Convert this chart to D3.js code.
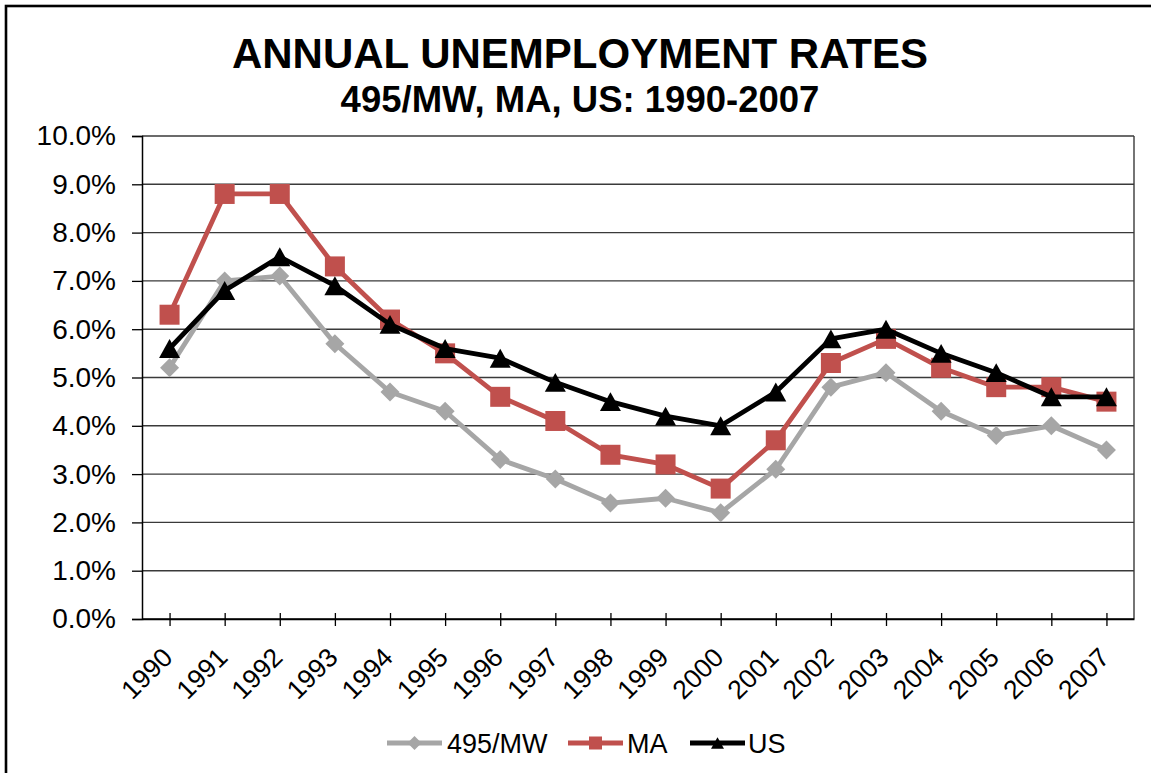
<!DOCTYPE html>
<html><head><meta charset="utf-8">
<script src="https://cdn.jsdelivr.net/npm/d3@7"></script>
<style>
body{margin:0;background:#fff;}
svg{display:block;font-family:"Liberation Sans",Arial,Helvetica,sans-serif;}
</style>
</head><body>
<svg id="chart" width="1151" height="773"></svg>
<script>
// ---- data ----
const years = ["1990","1991","1992","1993","1994","1995","1996","1997","1998","1999","2000","2001","2002","2003","2004","2005","2006","2007"];
const mw495 = [5.2,7.0,7.1,5.7,4.7,4.3,3.3,2.9,2.4,2.5,2.2,3.1,4.8,5.1,4.3,3.8,4.0,3.5];
const ma    = [6.3,8.8,8.8,7.3,6.2,5.5,4.6,4.1,3.4,3.2,2.7,3.7,5.3,5.8,5.2,4.8,4.8,4.5];
const us    = [5.6,6.8,7.5,6.9,6.1,5.6,5.4,4.9,4.5,4.2,4.0,4.7,5.8,6.0,5.5,5.1,4.6,4.6];
const yTicks = [0,1,2,3,4,5,6,7,8,9,10];
const seriesNames = ["495/MW","MA","US"];
const titleText = "ANNUAL UNEMPLOYMENT RATES";
const subtitleText = "495/MW, MA, US: 1990-2007";

const series = [
  {name: seriesNames[0], values: mw495, color: "#A6A6A6", shape: "diamond"},
  {name: seriesNames[1], values: ma,    color: "#C0504D", shape: "square"},
  {name: seriesNames[2], values: us,    color: "#000000", shape: "triangle"}
];

const svg = d3.select("#chart");
const plot = {left: 142, right: 1134, top: 136, bottom: 619};

// outer frame
svg.append("rect").attr("x",6).attr("y",6).attr("width",1300).attr("height",1000)
  .attr("fill","#fff").attr("stroke","#000").attr("stroke-width",2.6);

// titles
svg.append("text").attr("x",580).attr("y",68).attr("text-anchor","middle")
  .attr("font-size",42).attr("font-weight","bold").text(titleText);
svg.append("text").attr("x",580).attr("y",112).attr("text-anchor","middle")
  .attr("font-size",36.5).attr("font-weight","bold").text(subtitleText);

const x = d3.scalePoint().domain(years).range([plot.left, plot.right]).padding(0.5);
const y = d3.scaleLinear().domain([0,10]).range([plot.bottom, plot.top]);

// gridlines
svg.append("g").selectAll("line").data(yTicks.filter(d=>d>0)).join("line")
  .attr("x1",plot.left).attr("x2",plot.right)
  .attr("y1",d=>y(d)).attr("y2",d=>y(d))
  .attr("stroke","#3a3a3a").attr("stroke-width",1.4);
// right border
svg.append("line").attr("x1",plot.right).attr("x2",plot.right)
  .attr("y1",plot.top).attr("y2",plot.bottom).attr("stroke","#3a3a3a").attr("stroke-width",1.4);

// y axis
const yAxis = d3.axisLeft(y).tickValues(yTicks).tickSize(10).tickPadding(16)
  .tickFormat(d=>d3.format(".1f")(d)+"%");
const gy = svg.append("g").attr("transform",`translate(${plot.left},0)`).call(yAxis);
gy.select(".domain").attr("stroke","#000").attr("stroke-width",1.5);
gy.selectAll(".tick line").attr("stroke","#000").attr("stroke-width",1.3);
gy.selectAll(".tick text").attr("font-size",28).attr("fill","#000")
  .attr("font-family","Liberation Sans, Arial, sans-serif");

// x axis
const xAxis = d3.axisBottom(x).tickSize(7).tickSizeOuter(0);
const gx = svg.append("g").attr("transform",`translate(0,${plot.bottom})`).call(xAxis);
gx.select(".domain").attr("stroke","#000").attr("stroke-width",1.5);
gx.selectAll(".tick line").attr("y1",-6).attr("y2",7).attr("stroke","#000").attr("stroke-width",1.3);
gx.selectAll(".tick text").attr("font-size",26.5).attr("fill","#000")
  .attr("font-family","Liberation Sans, Arial, sans-serif")
  .attr("text-anchor","end").attr("dy",0).attr("y",0)
  .attr("transform","translate(4,40) rotate(-45)");
svg.append("line").attr("x1",plot.left).attr("x2",plot.right).attr("y1",plot.bottom).attr("y2",plot.bottom)
  .attr("stroke","#000").attr("stroke-width",1.5);

// markers
function markerPath(shape, s){
  if (shape==="square") return `M${-s/2},${-s/2}H${s/2}V${s/2}H${-s/2}Z`;
  if (shape==="diamond") return `M0,${-s/2}L${s/2},0L0,${s/2}L${-s/2},0Z`;
  return `M0,${-s*0.45}L${s/2},${s*0.45}L${-s/2},${s*0.45}Z`;
}
const markerSize = {square: 20, diamond: 19, triangle: 21};

const line = d3.line().x((d,i)=>x(years[i])).y(d=>y(d));
series.forEach(s=>{
  const g = svg.append("g");
  g.append("path").datum(s.values).attr("d",line)
    .attr("fill","none").attr("stroke",s.color).attr("stroke-width",4.8)
    .attr("stroke-linejoin","round");
  g.selectAll("path.m").data(s.values).join("path").attr("class","m")
    .attr("transform",(d,i)=>`translate(${x(years[i])},${y(d)})`)
    .attr("d",markerPath(s.shape, markerSize[s.shape]))
    .attr("fill",s.color);
});

// legend
const legendItems = [
  {lx: 387, tx: 447},
  {lx: 568, tx: 627},
  {lx: 690, tx: 748}
];
const ly = 743;
series.forEach((s,i)=>{
  const it = legendItems[i];
  svg.append("line").attr("x1",it.lx).attr("x2",it.lx+55).attr("y1",ly).attr("y2",ly)
    .attr("stroke",s.color).attr("stroke-width",4.8);
  svg.append("path").attr("transform",`translate(${it.lx+27.5},${ly})`)
    .attr("d",markerPath(s.shape, s.shape==="diamond"?14:13)).attr("fill",s.color);
  svg.append("text").attr("x",it.tx).attr("y",ly+10).attr("font-size",27).attr("fill","#000").text(s.name);
});
</script>
</body></html>
